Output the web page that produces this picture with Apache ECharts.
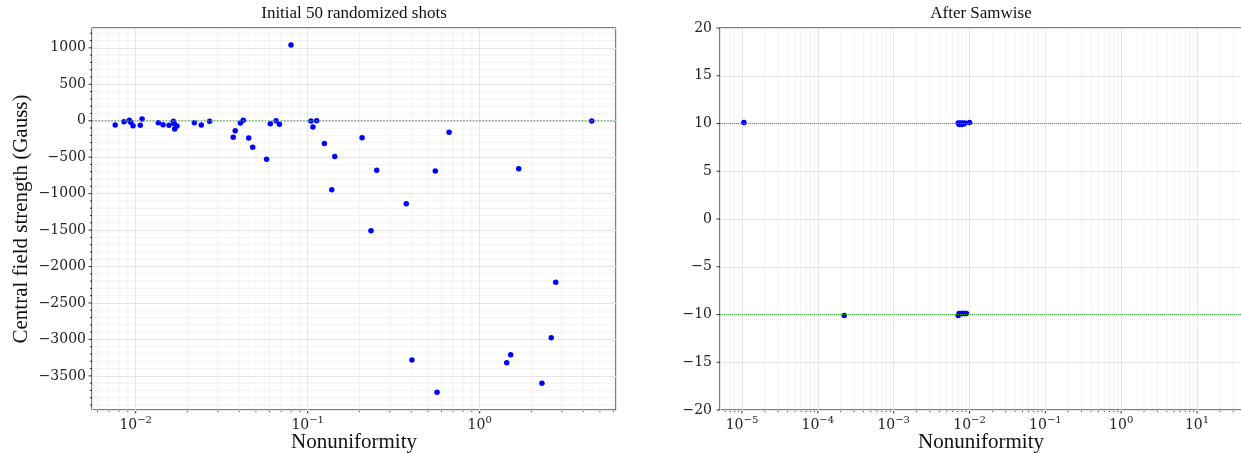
<!DOCTYPE html>
<html>
<head>
<meta charset="utf-8">
<script src="https://cdn.jsdelivr.net/npm/echarts@6/dist/echarts.min.js"></script>
<style>
  html, body { margin: 0; padding: 0; background: #fff; }
  #chart { width: 1241px; height: 453px; }
</style>
</head>
<body>
<div id="chart"></div>
<script>
// Initial 50 randomized shots: nonuniformity vs central field (Gauss)
const initialNonuniformity = [
  0.0076, 0.00855, 0.00918, 0.00935, 0.00965, 0.01064, 0.01089, 0.01353, 0.01442, 0.01563,
  0.01656, 0.01676, 0.01685, 0.01738, 0.02193, 0.02406, 0.02691, 0.0369, 0.0379, 0.0406,
  0.0422, 0.0454, 0.0479, 0.0577, 0.0606, 0.0655, 0.0685, 0.0800, 0.1045, 0.1073,
  0.1128, 0.125, 0.1437, 0.138, 0.2071, 0.2518, 0.3741, 0.552, 0.664, 1.686,
  4.48, 0.2333, 2.767, 2.606, 1.514, 1.436, 0.4037, 0.565, 2.301
]
const initialField = [
  -59, -14, 5, -22, -68, -63, 23, -27, -55, -63,
  -8, -41, -114, -73, -27, -59, -8, -228, -137, -32,
  5, -237, -365, -530, -41, 0, -50, 1040, -4, -86,
  0, -311, -489, -946, -233, -680, -1139, -690, -159, -658,
  -4, -1509, -2217, -2977, -3210, -3320, -3283, -3726, -3602
]

// After Samwise
const samwiseNonuniformity = [
  1.06e-5, 0.0071, 0.0073, 0.0075, 0.0078, 0.0081, 0.0084, 0.0087, 0.0100,
  2.23e-4, 0.0071, 0.0073, 0.0076, 0.0079, 0.0082, 0.0085, 0.0088, 0.0091
]
const samwiseField = [
  10.1, 10.05, 9.9, 10.05, 9.9, 10.05, 9.95, 10.05, 10.1,
  -10.1, -10.1, -9.9, -9.9, -9.9, -9.9, -9.9, -9.9, -9.9
]

// target lines
const initialTargets = [0]
const samwiseTargets = [10, -10]

// axis ranges (x in log10 units)
const leftXRange = [-2.254, 0.7924]
const leftYRange = [-3968, 1272]
const rightXRange = [-5.29, 1.593]
const rightYRange = [-20, 20]

const tickFont = "'DejaVu Serif', serif"
const textFont = "'Liberation Serif', serif"
const majorGrid = '#e4e4e4'
const minorGrid = '#f3f3f3'

function toPoints (xs, ys) {
  return xs.map((x, i) => [Math.log10(x), ys[i]])
}

function minus (s) {
  return String(s).replace('-', '\u2212')
}

// 10^n labels, only on whole decades
function decadeLabel (v) {
  if (Math.abs(v - Math.round(v)) > 1e-6) return ''
  return '{b|10}{s|' + minus(Math.round(v)) + '}'
}

// log minor ticks + tick marks, drawn through the axes of each grid
function buildDecor (xr, yr, yMajor, yMinor) {
  const items = []
  for (let d = Math.floor(xr[0]); d <= Math.ceil(xr[1]); d++) {
    if (d >= xr[0] && d <= xr[1]) items.push([d, yr[0], 1])
    for (let k = 2; k <= 9; k++) {
      const v = d + Math.log10(k)
      if (v > xr[0] && v < xr[1]) items.push([v, yr[0], 0])
    }
  }
  const start = Math.ceil(yr[0] / yMajor) * yMajor
  for (let v = start; v <= yr[1]; v += yMajor) items.push([xr[0], v, 3])
  if (yMinor) {
    const s = Math.ceil(yr[0] / yMinor) * yMinor
    for (let v = s; v <= yr[1]; v += yMinor) {
      if (v % yMajor !== 0) items.push([xr[0], v, 2])
    }
  }
  return items
}

function renderDecor (params, api) {
  const kind = api.value(2)
  const p = api.coord([api.value(0), api.value(1)])
  const cs = params.coordSys
  const bottom = cs.y + cs.height
  const tick = { stroke: '#000', lineWidth: 0.8 }
  if (kind === 0) {
    return { type: 'group', children: [
      { type: 'line', shape: { x1: p[0], y1: cs.y, x2: p[0], y2: bottom }, style: { stroke: minorGrid, lineWidth: 1 } },
      { type: 'line', shape: { x1: p[0], y1: bottom, x2: p[0], y2: bottom + 2 }, style: tick }
    ] }
  }
  if (kind === 1) {
    return { type: 'line', shape: { x1: p[0], y1: bottom, x2: p[0], y2: bottom + 3.5 }, style: tick }
  }
  if (kind === 2) {
    return { type: 'group', children: [
      { type: 'line', shape: { x1: cs.x, y1: p[1], x2: cs.x + cs.width, y2: p[1] }, style: { stroke: minorGrid, lineWidth: 1 } },
      { type: 'line', shape: { x1: cs.x - 2, y1: p[1], x2: cs.x, y2: p[1] }, style: tick }
    ] }
  }
  return { type: 'line', shape: { x1: cs.x - 3.5, y1: p[1], x2: cs.x, y2: p[1] }, style: tick }
}

const tickRich = {
  b: { fontFamily: tickFont, fontSize: 14, color: '#222', lineHeight: 17, verticalAlign: 'bottom' },
  s: { fontFamily: tickFont, fontSize: 10, color: '#222', lineHeight: 10, verticalAlign: 'top' }
}

function xAxisOf (gridIndex, range, showName) {
  return {
    type: 'value',
    gridIndex,
    min: range[0],
    max: range[1],
    splitNumber: Math.round(range[1] - range[0]),
    axisLine: { show: false },
    axisTick: { show: false },
    splitLine: { show: true, lineStyle: { color: majorGrid, width: 1 } },
    axisLabel: { margin: 5, formatter: decadeLabel, rich: tickRich },
    name: showName ? 'Nonuniformity' : '',
    nameLocation: 'middle',
    nameGap: 22,
    nameMoveOverlap: false,
    nameTextStyle: { fontFamily: textFont, fontSize: 21, color: '#111' }
  }
}

const chart = echarts.init(document.getElementById('chart'), null, { renderer: 'canvas' })

const option = {
  animation: false,
  backgroundColor: '#fff',
  title: [
    { text: 'Initial 50 randomized shots', left: 354, top: 5, textAlign: 'center', padding: 0,
      textStyle: { fontFamily: textFont, fontSize: 17, fontWeight: 'normal', color: '#111' } },
    { text: 'After Samwise', left: 981, top: 5, textAlign: 'center', padding: 0,
      textStyle: { fontFamily: textFont, fontSize: 17, fontWeight: 'normal', color: '#111' } }
  ],
  grid: [
    { left: 92, top: 28, width: 524, height: 382, show: true, borderColor: '#000', borderWidth: 1,
      backgroundColor: 'transparent', containLabel: false, outerBoundsMode: 'none' },
    { left: 720, top: 28, width: 522, height: 382, show: true, borderColor: '#000', borderWidth: 1,
      backgroundColor: 'transparent', containLabel: false, outerBoundsMode: 'none' }
  ],
  xAxis: [
    xAxisOf(0, leftXRange, true),
    xAxisOf(1, rightXRange, true)
  ],
  yAxis: [
    {
      type: 'value',
      gridIndex: 0,
      min: leftYRange[0],
      max: leftYRange[1],
      splitNumber: 10,
      axisLine: { show: false },
      axisTick: { show: false },
      splitLine: { show: true, lineStyle: { color: majorGrid, width: 1 } },
      axisLabel: {
        margin: 6,
        fontFamily: tickFont,
        fontSize: 14,
        color: '#222',
        formatter: v => (Math.abs(v % 500) > 1e-6 ? '' : minus(v))
      },
      name: 'Central field strength (Gauss)',
      nameLocation: 'middle',
      nameGap: 60,
      nameMoveOverlap: false,
      nameTextStyle: { fontFamily: textFont, fontSize: 21, color: '#111' }
    },
    {
      type: 'value',
      gridIndex: 1,
      min: rightYRange[0],
      max: rightYRange[1],
      interval: 5,
      axisLine: { show: false },
      axisTick: { show: false },
      splitLine: { show: true, lineStyle: { color: majorGrid, width: 1 } },
      axisLabel: {
        margin: 8,
        fontFamily: tickFont,
        fontSize: 14,
        color: '#222',
        formatter: v => minus(v)
      }
    }
  ],
  series: [
    {
      type: 'custom',
      xAxisIndex: 0,
      yAxisIndex: 0,
      z: -1,
      silent: true,
      clip: false,
      renderItem: renderDecor,
      data: buildDecor(leftXRange, leftYRange, 500, 100)
    },
    {
      type: 'custom',
      xAxisIndex: 1,
      yAxisIndex: 1,
      z: -1,
      silent: true,
      clip: false,
      renderItem: renderDecor,
      data: buildDecor(rightXRange, rightYRange, 5, 0)
    },
    {
      type: 'scatter',
      xAxisIndex: 0,
      yAxisIndex: 0,
      symbolSize: 5.5,
      itemStyle: { color: '#0000ff', opacity: 1 },
      data: toPoints(initialNonuniformity, initialField),
      markLine: {
        silent: true,
        symbol: ['none', 'none'],
        label: { show: false },
        lineStyle: { color: '#4caf50', type: 'dotted', width: 1.6, opacity: 0.85 },
        data: initialTargets.map(v => ({ yAxis: v }))
      }
    },
    {
      type: 'scatter',
      xAxisIndex: 1,
      yAxisIndex: 1,
      symbolSize: 5.5,
      itemStyle: { color: '#0000ff', opacity: 1 },
      data: toPoints(samwiseNonuniformity, samwiseField),
      markLine: {
        silent: true,
        symbol: ['none', 'none'],
        label: { show: false },
        lineStyle: { color: '#3aa53a', type: 'dotted', width: 1, opacity: 1 },
        data: samwiseTargets.map(v => ({ yAxis: v }))
      }
    }
  ]
}

chart.setOption(option)
</script>
</body>
</html>
